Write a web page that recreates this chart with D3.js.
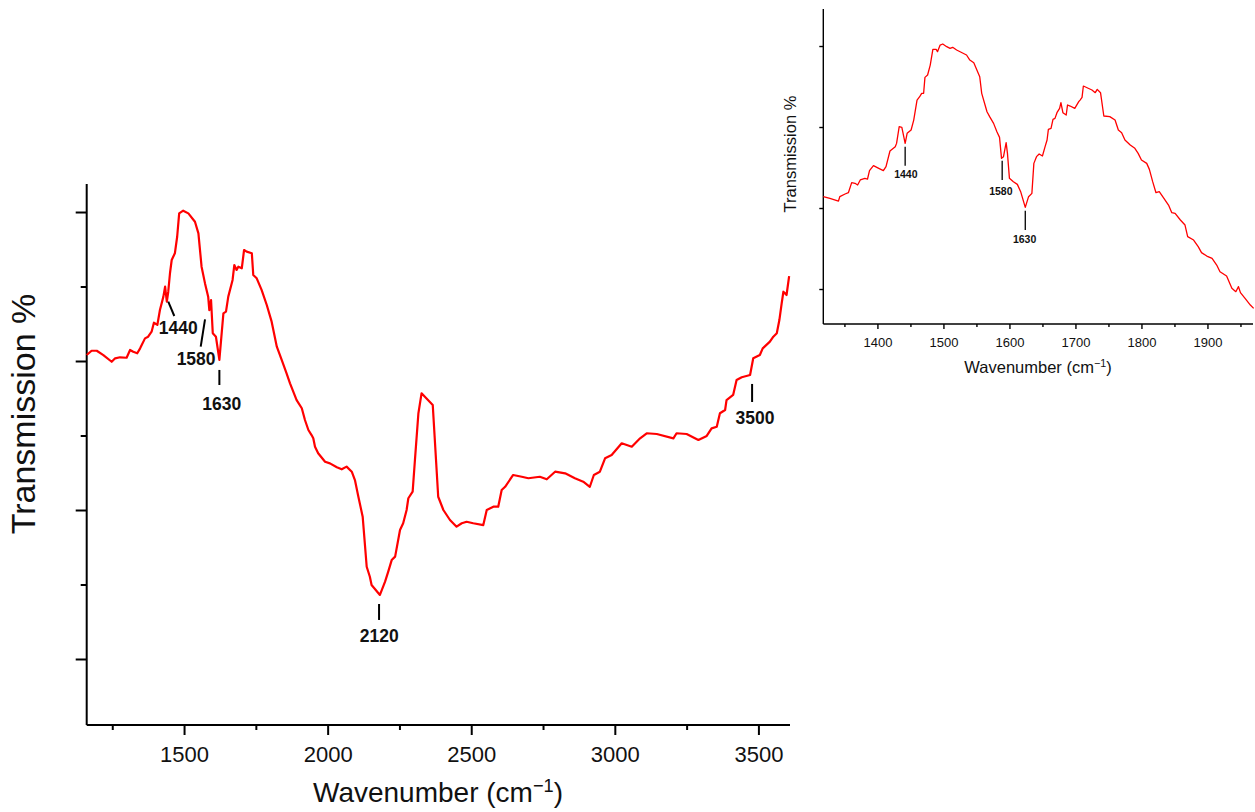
<!DOCTYPE html>
<html>
<head>
<meta charset="utf-8">
<script src="https://cdn.jsdelivr.net/npm/d3@7"></script>
<style>
  html, body { margin: 0; padding: 0; background: #fff; }
  svg { display: block; font-family: "Liberation Sans", Arial, sans-serif; }
</style>
</head>
<body>
<svg id="chart" width="1255" height="812"></svg>
<script>
// ---- Main spectrum (wavenumber cm-1, transmission arbitrary units) ----
const mainWavenumber = [1161,1178,1196,1219,1248,1260,1277,1300,1312,1323,1337,1347,1364,1375,1387,1395,1407,1416,1428,1434,1440,1445,1451,1457,1468,1476,1483,1497,1515,1538,1550,1561,1573,1584,1588,1594,1600,1611,1623,1637,1646,1654,1669,1675,1683,1689,1701,1709,1718,1736,1741,1753,1770,1788,1805,1823,1840,1857,1869,1892,1910,1921,1933,1944,1950,1956,1967,1991,2008,2032,2049,2066,2084,2095,2107,2122,2136,2147,2153,2182,2200,2211,2223,2235,2252,2263,2275,2281,2296,2304,2316,2327,2366,2385,2403,2426,2449,2467,2484,2507,2542,2554,2577,2594,2606,2618,2646,2676,2699,2739,2763,2792,2827,2861,2890,2913,2927,2948,2966,2989,3024,3059,3088,3111,3146,3204,3215,3250,3291,3320,3337,3355,3366,3384,3389,3412,3424,3442,3471,3482,3505,3515,3540,3552,3564,3573,3581,3587,3598,3607];
const mainTransmission = [30.40,30.69,30.69,30.40,29.95,30.18,30.25,30.22,30.74,30.62,30.52,30.85,31.52,31.63,31.97,32.57,32.42,33.42,34.32,34.99,33.98,34.65,35.89,36.78,37.23,38.34,39.91,40.09,39.91,39.35,38.57,36.33,35.21,34.32,33.42,34.09,31.86,31.63,30.07,33.20,33.31,34.32,35.44,36.44,36.11,36.33,36.22,37.45,37.34,37.23,35.77,35.55,34.77,33.76,32.64,30.96,30.07,29.17,28.50,27.38,26.83,26.04,25.37,25.03,24.81,24.25,23.81,23.24,23.13,22.87,22.73,22.91,22.57,22.01,20.89,19.55,16.19,15.52,14.97,14.30,15.19,15.86,16.64,16.87,18.66,19.11,20.00,20.79,21.23,23.36,26.49,27.83,27.05,20.89,20.00,19.33,18.88,19.11,19.21,19.11,18.99,20.00,20.22,20.22,21.34,21.56,22.35,22.23,22.13,22.23,22.06,22.57,22.46,22.13,21.90,21.56,22.35,22.57,23.47,23.69,24.48,24.25,24.81,25.15,25.10,24.81,25.15,25.10,24.70,24.97,25.48,25.59,26.49,26.71,27.38,27.72,28.72,28.91,29.06,30.18,30.40,30.85,31.30,31.63,31.86,32.75,33.87,34.65,34.43,35.70];

// main axis ticks
const mainXMajor = [1500, 2000, 2500, 3000, 3500];
const mainXMinor = [1250, 1750, 2250, 2750, 3250];
const mainYMajor = [40, 30, 20, 10];
const mainYMinor = [35, 25, 15];

// main peak annotations: label, marker line from (wn1,t1) to (wn2,t2), label anchor (lwn,lt)
const mainPeakLabels = ["1440", "1580", "1630", "2120", "3500"];
const mainPeakLine = [
  [1445, 33.98, 1466, 33.02],
  [1573, 32.80, 1558, 30.96],
  [1623, 29.40, 1623, 28.39],
  [2179, 13.69, 2179, 12.62],
  [3478, 28.46, 3478, 27.25]
];
const mainPeakText = [[1480, 31.81],[1542, 29.73],[1631, 26.71],[2180, 11.16],[3488, 25.77]];

// ---- Inset spectrum ----
const insetWavenumber = [1318,1328,1341,1343,1351,1356,1361,1366,1370,1374,1381,1385,1388,1394,1402,1409,1413,1419,1427,1429,1433,1437,1442,1445,1451,1455,1460,1464,1467,1470,1472,1476,1480,1484,1489,1491,1495,1499,1505,1510,1514,1520,1535,1540,1546,1555,1558,1566,1570,1576,1581,1585,1588,1591,1595,1597,1600,1606,1612,1617,1624,1629,1634,1637,1641,1645,1650,1654,1657,1659,1663,1666,1669,1672,1676,1678,1681,1686,1688,1692,1699,1705,1707,1710,1712,1725,1730,1733,1738,1743,1752,1760,1765,1770,1775,1783,1790,1795,1800,1808,1812,1817,1822,1827,1833,1841,1846,1851,1859,1866,1870,1879,1886,1891,1899,1907,1914,1919,1929,1937,1943,1947,1950,1957,1965,1970];
const insetTransmission = [21.40,21.19,20.86,21.40,21.73,21.89,23.13,23.05,22.84,23.46,23.66,23.58,24.61,25.23,24.90,24.61,25.10,27.04,27.57,27.98,30.04,29.96,27.98,29.22,29.63,30.86,33.33,33.74,34.16,34.16,36.13,36.42,37.65,39.59,39.59,39.30,40.12,40.25,39.92,39.71,39.84,39.51,38.89,38.27,37.94,36.21,34.16,31.89,31.28,30.45,29.42,28.72,26.13,26.34,28.07,26.75,23.66,23.25,22.92,22.02,20.08,21.40,21.81,25.51,26.34,26.67,26.42,27.57,28.40,29.71,29.84,30.95,31.07,31.77,32.30,33.00,31.77,31.48,32.72,32.59,32.30,33.13,33.33,33.66,35.06,34.57,34.24,34.65,34.24,31.36,31.28,30.86,29.63,29.30,28.40,27.78,27.37,26.75,25.93,25.51,24.77,23.25,21.89,22.02,21.32,20.37,19.42,19.34,18.52,17.90,16.46,16.05,15.23,14.49,14.07,13.79,12.96,12.14,11.60,10.08,9.67,10.29,9.55,8.85,8.02,7.61];

const insetXMajor = [1400, 1500, 1600, 1700, 1800, 1900];
const insetXMinor = [1350, 1450, 1550, 1650, 1750, 1850, 1950];
const insetYMajor = [40, 30, 20, 10];

const insetPeakLabels = ["1440", "1580", "1630"];
const insetPeakLine = [
  [1442, 27.57, 1442, 25.22],
  [1589, 25.84, 1589, 23.46],
  [1624, 19.67, 1624, 17.28]
];
const insetPeakText = [[1443, 23.74],[1587, 21.60],[1623, 15.72]];

// ---------------- drawing ----------------
const svg = d3.select("#chart");
const FONT = '"Liberation Sans", Arial, sans-serif';

function drawPanel(cfg) {
  const x = d3.scaleLinear().domain(cfg.xDomain).range(cfg.xRange);
  const y = d3.scaleLinear().domain(cfg.yDomain).range(cfg.yRange);
  const g = svg.append("g");

  // minor x ticks
  const xMinor = g.append("g").attr("transform", `translate(0,${cfg.yRange[0]})`)
    .call(d3.axisBottom(x).tickValues(cfg.xMinor).tickSize(cfg.minorLen).tickFormat("").tickSizeOuter(0));
  xMinor.select(".domain").remove();
  xMinor.selectAll("line").attr("stroke", "#000").attr("stroke-width", cfg.axisW);

  // major x ticks + labels
  const xAx = g.append("g").attr("transform", `translate(0,${cfg.yRange[0]})`)
    .call(d3.axisBottom(x).tickValues(cfg.xMajor).tickSize(cfg.majorLen).tickSizeOuter(0).tickFormat(d3.format("d")));
  xAx.select(".domain").attr("stroke", "#000").attr("stroke-width", cfg.axisW)
    .attr("d", `M${cfg.xRange[0]},0H${cfg.xRange[1]}`);
  xAx.selectAll("line").attr("stroke", "#000").attr("stroke-width", cfg.axisW);
  xAx.selectAll("text").attr("font-family", FONT).attr("font-size", cfg.tickFont)
    .attr("fill", "#111").attr("dy", null).attr("y", cfg.tickBaseline);

  // y axis
  if (cfg.yMinor) {
    const yMin = g.append("g").attr("transform", `translate(${cfg.xRange[0]},0)`)
      .call(d3.axisLeft(y).tickValues(cfg.yMinor).tickSize(cfg.yMinorLen).tickFormat("").tickSizeOuter(0));
    yMin.select(".domain").remove();
    yMin.selectAll("line").attr("stroke", "#000").attr("stroke-width", cfg.axisW);
  }
  const yAx = g.append("g").attr("transform", `translate(${cfg.xRange[0]},0)`)
    .call(d3.axisLeft(y).tickValues(cfg.yMajor).tickSize(cfg.yMajorLen).tickFormat("").tickSizeOuter(0));
  yAx.select(".domain").attr("stroke", "#000").attr("stroke-width", cfg.axisW)
    .attr("d", `M0,${cfg.yRange[0]}V${cfg.yRange[1]}`);
  yAx.selectAll("line").attr("stroke", "#000").attr("stroke-width", cfg.axisW);

  // spectrum
  const pts = cfg.wn.map((w, i) => [w, cfg.tr[i]]);
  g.append("path").datum(pts)
    .attr("fill", "none").attr("stroke", "#ff0000").attr("stroke-width", cfg.lineW)
    .attr("stroke-linejoin", "round")
    .attr("d", d3.line().x(d => x(d[0])).y(d => y(d[1])));

  // peak markers
  cfg.peakLabels.forEach((lab, i) => {
    const l = cfg.peakLine[i];
    g.append("line")
      .attr("x1", x(l[0])).attr("y1", y(l[1])).attr("x2", x(l[2])).attr("y2", y(l[3]))
      .attr("stroke", "#000").attr("stroke-width", cfg.markW);
    const t = cfg.peakText[i];
    g.append("text").attr("x", x(t[0])).attr("y", y(t[1]))
      .attr("text-anchor", "middle").attr("font-family", FONT)
      .attr("font-weight", "bold").attr("font-size", cfg.peakFont).attr("fill", "#111")
      .text(lab);
  });

  // axis titles
  const xt = g.append("text").attr("x", cfg.xTitlePos[0]).attr("y", cfg.xTitlePos[1])
    .attr("text-anchor", "middle").attr("font-family", FONT).attr("font-size", cfg.titleFont)
    .attr("fill", "#111");
  xt.append("tspan").text("Wavenumber (cm");
  xt.append("tspan").attr("baseline-shift", "super").attr("font-size", cfg.titleFont * 0.65).text("\u22121");
  xt.append("tspan").text(")");

  g.append("text")
    .attr("transform", `translate(${cfg.yTitlePos[0]},${cfg.yTitlePos[1]}) rotate(-90)`)
    .attr("text-anchor", "middle").attr("font-family", FONT).attr("font-size", cfg.yTitleFont)
    .attr("fill", "#111").text("Transmission %");
}

// main panel
drawPanel({
  xDomain: [1161, 3610], xRange: [86.7, 790],
  yDomain: [5.57, 41.88], yRange: [725, 184],
  xMajor: mainXMajor, xMinor: mainXMinor, yMajor: mainYMajor, yMinor: mainYMinor,
  majorLen: 10, minorLen: 5, yMajorLen: 11, yMinorLen: 6,
  axisW: 2, lineW: 2.2, markW: 2,
  tickFont: 22, tickBaseline: 37,
  wn: mainWavenumber, tr: mainTransmission,
  peakLabels: mainPeakLabels, peakLine: mainPeakLine, peakText: mainPeakText, peakFont: 17.5,
  titleFont: 28, xTitlePos: [438, 802],
  yTitleFont: 34, yTitlePos: [35, 414]
});

// inset panel
drawPanel({
  xDomain: [1318, 1969], xRange: [823.3, 1253],
  yDomain: [5.68, 44.57], yRange: [324, 9],
  xMajor: insetXMajor, xMinor: insetXMinor, yMajor: insetYMajor, yMinor: null,
  majorLen: 5, minorLen: 3, yMajorLen: 4,
  axisW: 1.4, lineW: 1.3, markW: 1.3,
  tickFont: 13, tickBaseline: 22.7,
  wn: insetWavenumber, tr: insetTransmission,
  peakLabels: insetPeakLabels, peakLine: insetPeakLine, peakText: insetPeakText, peakFont: 10.5,
  titleFont: 16.5, xTitlePos: [1038, 373],
  yTitleFont: 16.5, yTitlePos: [796, 154]
});
</script>
</body>
</html>
